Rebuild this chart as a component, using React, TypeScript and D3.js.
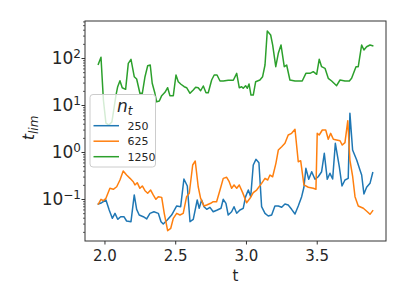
import React from "react";
import * as d3 from "d3";

// (t, t_lim) for each n_t
const blueT = [1.953, 1.977, 2.007, 2.03, 2.052, 2.071, 2.09, 2.111, 2.134, 2.153, 2.184, 2.207, 2.224, 2.242, 2.271, 2.295, 2.318, 2.346, 2.377, 2.396, 2.412, 2.44, 2.471, 2.507, 2.535, 2.558, 2.582, 2.601, 2.624, 2.652, 2.666, 2.683, 2.7, 2.719, 2.742, 2.765, 2.794, 2.82, 2.836, 2.855, 2.871, 2.895, 2.912, 2.931, 2.954, 2.977, 2.994, 3.013, 3.03, 3.048, 3.067, 3.088, 3.107, 3.131, 3.154, 3.178, 3.201, 3.225, 3.249, 3.272, 3.295, 3.319, 3.343, 3.366, 3.39, 3.406, 3.42, 3.44, 3.461, 3.484, 3.507, 3.531, 3.55, 3.571, 3.59, 3.609, 3.628, 3.656, 3.675, 3.696, 3.719, 3.731, 3.75, 3.779, 3.802, 3.814, 3.83, 3.849, 3.873, 3.892];
const blueV = [0.08, 0.0855, 0.0976, 0.0598, 0.0398, 0.0508, 0.0379, 0.0431, 0.0431, 0.0349, 0.0337, 0.125, 0.0618, 0.0468, 0.0431, 0.0385, 0.0508, 0.055, 0.0508, 0.0337, 0.0301, 0.0366, 0.0468, 0.0728, 0.0703, 0.273, 0.194, 0.0337, 0.0379, 0.0976, 0.065, 0.0976, 0.0703, 0.0618, 0.0682, 0.055, 0.0598, 0.065, 0.101, 0.083, 0.0468, 0.055, 0.0703, 0.0508, 0.0598, 0.065, 0.115, 0.159, 0.115, 0.542, 0.716, 0.607, 0.0703, 0.0508, 0.0446, 0.0468, 0.0728, 0.0728, 0.0682, 0.08, 0.0764, 0.0618, 0.0491, 0.0728, 0.115, 0.182, 0.461, 0.269, 0.39, 0.269, 0.305, 0.39, 0.962, 0.269, 0.361, 0.273, 1.57, 0.499, 0.194, 0.26, 0.282, 6.82, 1.13, 0.692, 0.425, 0.332, 0.131, 0.182, 0.221, 0.372];

const orangeT = [1.953, 1.972, 1.988, 2.007, 2.035, 2.059, 2.083, 2.106, 2.129, 2.153, 2.177, 2.2, 2.212, 2.228, 2.247, 2.264, 2.283, 2.302, 2.323, 2.341, 2.36, 2.377, 2.401, 2.419, 2.443, 2.465, 2.483, 2.507, 2.53, 2.553, 2.577, 2.596, 2.62, 2.638, 2.659, 2.676, 2.7, 2.719, 2.747, 2.765, 2.789, 2.813, 2.836, 2.86, 2.878, 2.895, 2.912, 2.931, 2.949, 2.973, 3.001, 3.025, 3.048, 3.072, 3.107, 3.131, 3.15, 3.166, 3.185, 3.208, 3.225, 3.249, 3.272, 3.295, 3.319, 3.343, 3.366, 3.383, 3.406, 3.437, 3.472, 3.491, 3.5, 3.514, 3.536, 3.56, 3.578, 3.595, 3.614, 3.637, 3.661, 3.677, 3.696, 3.716, 3.731, 3.75, 3.767, 3.79, 3.826, 3.854, 3.873, 3.892];
const orangeV = [0.08, 0.101, 0.0942, 0.106, 0.173, 0.165, 0.187, 0.26, 0.404, 0.332, 0.282, 0.239, 0.204, 0.228, 0.173, 0.194, 0.154, 0.136, 0.159, 0.125, 0.101, 0.115, 0.111, 0.0508, 0.0217, 0.0244, 0.0398, 0.0508, 0.0468, 0.0508, 0.115, 0.136, 0.542, 0.659, 0.187, 0.106, 0.0728, 0.0764, 0.083, 0.0898, 0.0898, 0.159, 0.282, 0.297, 0.239, 0.173, 0.204, 0.173, 0.204, 0.14, 0.0855, 0.106, 0.14, 0.159, 0.221, 0.282, 0.26, 0.332, 0.305, 0.589, 1.13, 1.33, 1.57, 2.36, 2.56, 3.12, 0.637, 0.67, 0.204, 0.182, 0.173, 0.165, 2.56, 2.36, 3.01, 3.01, 1.91, 2.56, 1.91, 1.85, 1.78, 1.44, 1.62, 4.75, 0.692, 0.316, 0.115, 0.0728, 0.065, 0.055, 0.0484, 0.0578];

const greenT = [1.953, 1.972, 1.989, 2.007, 2.028, 2.049, 2.078, 2.09, 2.106, 2.122, 2.146, 2.165, 2.184, 2.207, 2.224, 2.247, 2.264, 2.283, 2.302, 2.32, 2.334, 2.353, 2.365, 2.384, 2.401, 2.424, 2.443, 2.459, 2.483, 2.502, 2.518, 2.537, 2.56, 2.577, 2.601, 2.624, 2.641, 2.659, 2.676, 2.695, 2.714, 2.73, 2.754, 2.772, 2.792, 2.813, 2.836, 2.871, 2.907, 2.931, 2.949, 2.966, 2.977, 2.994, 3.006, 3.018, 3.032, 3.048, 3.065, 3.095, 3.114, 3.131, 3.147, 3.171, 3.185, 3.207, 3.225, 3.244, 3.267, 3.284, 3.307, 3.343, 3.394, 3.42, 3.449, 3.472, 3.496, 3.514, 3.531, 3.555, 3.578, 3.602, 3.637, 3.661, 3.696, 3.727, 3.743, 3.774, 3.79, 3.814, 3.83, 3.849, 3.873, 3.892];
const greenV = [75, 106, 13.1, 4.2, 3.85, 4.46, 16.7, 25.1, 33.7, 23.9, 22.1, 79, 96, 41, 36.6, 18.2, 18.2, 41, 70, 72.7, 29.7, 18.2, 12.0, 12.5, 16.2, 19.1, 23.9, 16.2, 16.2, 44.6, 32.1, 28.3, 25.1, 23.9, 18.2, 21.4, 24.4, 23.9, 20.6, 26, 18.7, 18.7, 34.9, 44.6, 44.6, 33.2, 33.2, 34.4, 34.4, 48.4, 23.9, 25.1, 23.2, 26.4, 23.2, 28.7, 16.7, 16.7, 32.1, 34.9, 41, 72.7, 385, 316, 194, 67, 129, 194, 67, 72.7, 34.9, 33.2, 33.2, 48.4, 48.4, 52.4, 46.1, 96, 67, 61.8, 37.9, 33.2, 26.4, 34.9, 33.2, 33.2, 37.9, 67, 67, 194, 152, 178, 194, 187];

const seriesNames = ["250", "625", "1250"];
const seriesColors = ["#1f77b4", "#ff7f0e", "#2ca02c"];
const xTicks = [2.0, 2.5, 3.0, 3.5];
const yDecades = [-1, 0, 1, 2];

const W = 407;
const H = 305;
const FONT = "DejaVu Sans, sans-serif";

export default function App() {
  const margin = { left: 85, right: 21, top: 21, bottom: 64 };
  const x = d3
    .scaleLinear()
    .domain([1.859, 3.986])
    .range([margin.left, W - margin.right]);
  const y = d3
    .scaleLog()
    .domain([0.0131, 628])
    .range([H - margin.bottom, margin.top]);

  const series = [
    { t: blueT, v: blueV },
    { t: orangeT, v: orangeV },
    { t: greenT, v: greenV },
  ];

  const line = d3
    .line<[number, number]>()
    .x((d) => x(d[0]))
    .y((d) => y(d[1]));

  // minor ticks on the log axis
  const [y0, y1] = y.domain();
  const minor: number[] = [];
  for (let e = -2; e <= 2; e++) {
    for (let m = 2; m <= 9; m++) {
      const val = m * Math.pow(10, e);
      if (val >= y0 && val <= y1) minor.push(val);
    }
  }

  const x0 = margin.left;
  const xEnd = W - margin.right;
  const yTop = margin.top;
  const yBot = H - margin.bottom;
  const axisColor = "#333";
  const textColor = "#262626";

  const lx = 90;
  const ly = 94.5;

  return (
    <svg
      width={W}
      height={H}
      style={{ position: "absolute", left: 0, top: 0, background: "#fff" }}
      fontFamily={FONT}
    >
      <defs>
        <clipPath id="plot-area">
          <rect x={x0} y={yTop} width={xEnd - x0} height={yBot - yTop} />
        </clipPath>
      </defs>

      <g clipPath="url(#plot-area)">
        {series.map((s, i) => (
          <path
            key={i}
            d={line(s.t.map((t, j) => [t, s.v[j]] as [number, number])) || ""}
            fill="none"
            stroke={seriesColors[i]}
            strokeWidth={1.5}
            strokeLinejoin="round"
            strokeLinecap="square"
          />
        ))}
      </g>

      {/* frame */}
      <rect
        x={x0}
        y={yTop}
        width={xEnd - x0}
        height={yBot - yTop}
        fill="none"
        stroke={axisColor}
        strokeWidth={1}
      />

      {/* x axis */}
      {xTicks.map((t) => (
        <g key={t} transform={`translate(${x(t)},${yBot})`}>
          <line y2={3.5} stroke={axisColor} />
          <text y={19.5} textAnchor="middle" fontSize={15} fill={textColor}>
            {t.toFixed(1)}
          </text>
        </g>
      ))}
      <text x={(x0 + xEnd) / 2} y={281} textAnchor="middle" fontSize={15} fill={textColor}>
        t
      </text>

      {/* y axis */}
      {minor.map((m) => (
        <line key={m} x1={x0} x2={x0 - 2} y1={y(m)} y2={y(m)} stroke={axisColor} strokeWidth={0.8} />
      ))}
      {yDecades.map((e) => (
        <g key={e} transform={`translate(${x0},${y(Math.pow(10, e))})`}>
          <line x2={-3.5} stroke={axisColor} />
          <text x={-4} y={5.5} textAnchor="end" fontSize={17} fill={textColor}>
            10
            <tspan dy={-6.5} fontSize={12}>
              {e < 0 ? "\u2212" + Math.abs(e) : String(e)}
            </tspan>
          </text>
        </g>
      ))}
      <text
        transform={`translate(34,128) rotate(-90)`}
        textAnchor="middle"
        fontSize={16}
        fontStyle="italic"
        fill={textColor}
      >
        t
        <tspan fontSize={12} dy={4}>
          lim
        </tspan>
      </text>

      {/* legend */}
      <g>
        <rect
          x={lx}
          y={ly}
          width={65.5}
          height={72.5}
          rx={3}
          fill="#fff"
          fillOpacity={0.8}
          stroke="#ccc"
          strokeWidth={1}
        />
        <text x={117} y={112} fontSize={17} fontStyle="italic" fill={textColor}>
          n
          <tspan fontSize={12} dy={3}>
            t
          </tspan>
        </text>
        {seriesNames.map((name, i) => (
          <g key={name} transform={`translate(0,${125.7 + i * 15.5})`}>
            <line x1={93.5} x2={119} stroke={seriesColors[i]} strokeWidth={1.5} />
            <text x={127.5} y={4} fontSize={11} fill={textColor}>
              {name}
            </text>
          </g>
        ))}
      </g>
    </svg>
  );
}
